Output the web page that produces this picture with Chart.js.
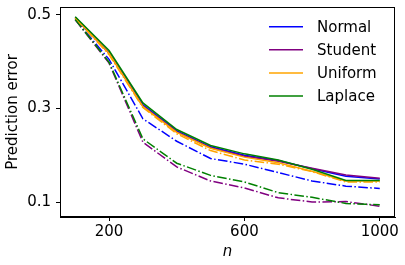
<!DOCTYPE html>
<html><head><meta charset="utf-8">
<script src="https://cdn.jsdelivr.net/npm/chart.js@4"></script>
<style>html,body{margin:0;padding:0;background:#fff}#wrap{width:405px;height:265px}</style>
</head><body><div id="wrap"><canvas id="c" width="405" height="265"></canvas></div>
<script>
const nValues = [100, 200, 300, 400, 500, 600, 700, 800, 900, 1000];
const xTicks = [200, 600, 1000];
const yTicks = [0.1, 0.3, 0.5];

const normalSolid   = [0.495, 0.420, 0.308, 0.252, 0.218, 0.200, 0.189, 0.171, 0.155, 0.149];
const studentSolid  = [0.493, 0.418, 0.305, 0.250, 0.216, 0.198, 0.187, 0.172, 0.158, 0.151];
const uniformSolid  = [0.494, 0.418, 0.304, 0.249, 0.215, 0.196, 0.184, 0.166, 0.145, 0.145];
const laplaceSolid  = [0.496, 0.424, 0.312, 0.255, 0.221, 0.203, 0.190, 0.170, 0.146, 0.146];

const normalDash    = [0.490, 0.405, 0.278, 0.230, 0.193, 0.181, 0.163, 0.145, 0.134, 0.129];
const studentDash   = [0.490, 0.397, 0.228, 0.175, 0.145, 0.130, 0.109, 0.100, 0.101, 0.091];
const uniformDash   = [0.493, 0.415, 0.302, 0.246, 0.210, 0.190, 0.181, 0.165, 0.143, 0.143];
const laplaceDash   = [0.490, 0.399, 0.235, 0.183, 0.157, 0.143, 0.120, 0.110, 0.097, 0.094];

const FONT = 'DejaVu Sans';
const DASHDOT = [9.6, 2.4, 1.5, 2.4];

function pts(arr){ return nValues.map((n,i)=>({x:n, y:arr[i]})); }
function ds(label, arr, color, dashed, idx){
  return {label, data: pts(arr), borderColor: color, backgroundColor: color,
    borderWidth: 1.5, borderDash: dashed ? DASHDOT : [], pointRadius: 0,
    tension: 0, fill: false, showInLegend: !dashed, order: 20 - idx};
}
const datasets = [
  ds('Normal', normalSolid, 'blue', false, 0),
  ds('Normal ', normalDash, 'blue', true, 1),
  ds('Student', studentSolid, 'purple', false, 2),
  ds('Student ', studentDash, 'purple', true, 3),
  ds('Uniform', uniformSolid, 'orange', false, 4),
  ds('Uniform ', uniformDash, 'orange', true, 5),
  ds('Laplace', laplaceSolid, 'green', false, 6),
  ds('Laplace ', laplaceDash, 'green', true, 7),
];

const boxAndLegend = {
  id: 'boxAndLegend',
  afterDraw(chart){
    const ctx = chart.ctx, a = chart.chartArea;
    ctx.save();
    ctx.strokeStyle = '#000'; ctx.lineWidth = 1;
    ctx.strokeRect(Math.round(a.left)+0.5, Math.round(a.top)+0.5, Math.round(a.right-a.left)-1, Math.round(a.bottom-a.top)-1);
    const items = chart.data.datasets.filter(d => d.showInLegend);
    ctx.font = '15px "' + FONT + '"';
    ctx.textBaseline = 'middle';
    ctx.fillStyle = '#000';
    items.forEach((d, i) => {
      const y = 26.7 + i * 23.1;
      ctx.strokeStyle = d.borderColor; ctx.lineWidth = 1.5; ctx.setLineDash([]);
      ctx.beginPath(); ctx.moveTo(269, y); ctx.lineTo(303, y); ctx.stroke();
      ctx.fillText(d.label, 317, y + 1.3);
    });
    ctx.restore();
  }
};

function noPad(s){ s.paddingTop = 0; s.paddingBottom = 0; s.paddingLeft = 0; s.paddingRight = 0; }

new Chart(document.getElementById('c'), {
  type: 'line',
  data: { datasets },
  options: {
    responsive: false, animation: false,
    layout: { padding: { top: 7, right: 10, left: 0, bottom: 0 } },
    plugins: { legend: { display: false }, tooltip: { enabled: false } },
    scales: {
      x: {
        type: 'linear', min: 55, max: 1045,
        afterBuildTicks(s){ s.ticks = xTicks.map(v => ({value: v})); },
        afterFit(s){ s.height = 48; noPad(s); },
        grid: { display: true, drawOnChartArea: false, drawTicks: true, tickLength: 4, color: '#000', tickColor: '#000' },
        border: { display: true, color: '#000', width: 1 },
        ticks: { color: '#000', font: { family: FONT, size: 15 }, padding: 2, maxRotation: 0, callback: v => String(v) },
        title: { display: true, text: 'n', color: '#000', font: { family: FONT, size: 15, style: 'italic' }, padding: { top: 0, bottom: 4 } }
      },
      y: {
        type: 'linear', min: 0.068, max: 0.517,
        afterBuildTicks(s){ s.ticks = yTicks.map(v => ({value: v})); },
        afterFit(s){ s.width = 60; noPad(s); },
        grid: { display: true, drawOnChartArea: false, drawTicks: true, tickLength: 4, color: '#000', tickColor: '#000' },
        border: { display: true, color: '#000', width: 1 },
        ticks: { color: '#000', font: { family: FONT, size: 15 }, padding: 5, callback: v => v.toFixed(1) },
        title: { display: true, text: 'Prediction error', color: '#000', font: { family: FONT, size: 15 }, padding: { top: 4, bottom: 0 } }
      }
    }
  },
  plugins: [boxAndLegend]
});
</script>
</body></html>
